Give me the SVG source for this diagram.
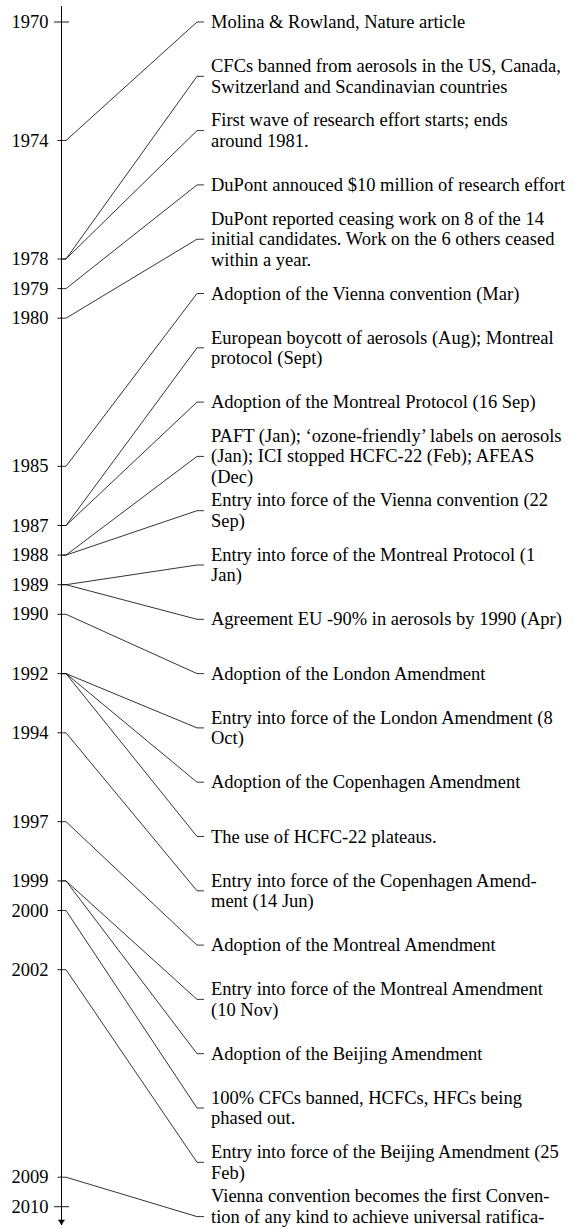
<svg xmlns="http://www.w3.org/2000/svg" width="574" height="1228" viewBox="0 0 574 1228">
<style>
.ax{stroke:#000;stroke-width:1;fill:none}
.tk{stroke:#000;stroke-width:0.9;fill:none}
.cn{stroke:#000;stroke-width:0.8;fill:none;stroke-linejoin:round}
.yr{font-family:"Liberation Serif","Times New Roman",serif;font-size:18.5px;fill:#000;text-anchor:end}
.lb{font-family:"Liberation Serif","Times New Roman",serif;font-size:18.5px;fill:#000}
</style>
<defs>
<marker id="arr" markerUnits="userSpaceOnUse" markerWidth="10" markerHeight="10" viewBox="-6 -5 7 10" refX="0" refY="0" orient="auto">
<path d="M-5,-3 Q-2,-0.8 0,0 Q-2,0.8 -5,3 Z" fill="#000" stroke="#000" stroke-width="0.6"/>
</marker>
</defs>
<rect width="574" height="1228" fill="#fff"/>
<g id="axis">
<line class="ax" x1="61.5" y1="6" x2="61.5" y2="1225" marker-end="url(#arr)"/>
<line class="tk" x1="54" y1="22" x2="69" y2="22"/>
<line class="tk" x1="54" y1="1206.7" x2="69" y2="1206.7"/>
<line class="tk" x1="57.5" y1="140.5" x2="61.5" y2="140.5"/>
<line class="tk" x1="57.5" y1="259" x2="61.5" y2="259"/>
<line class="tk" x1="57.5" y1="288.6" x2="61.5" y2="288.6"/>
<line class="tk" x1="57.5" y1="318.2" x2="61.5" y2="318.2"/>
<line class="tk" x1="57.5" y1="466.3" x2="61.5" y2="466.3"/>
<line class="tk" x1="57.5" y1="525.5" x2="61.5" y2="525.5"/>
<line class="tk" x1="57.5" y1="555.1" x2="61.5" y2="555.1"/>
<line class="tk" x1="57.5" y1="584.7" x2="61.5" y2="584.7"/>
<line class="tk" x1="57.5" y1="614.3" x2="61.5" y2="614.3"/>
<line class="tk" x1="57.5" y1="673.6" x2="61.5" y2="673.6"/>
<line class="tk" x1="57.5" y1="732.8" x2="61.5" y2="732.8"/>
<line class="tk" x1="57.5" y1="821.7" x2="61.5" y2="821.7"/>
<line class="tk" x1="57.5" y1="880.9" x2="61.5" y2="880.9"/>
<line class="tk" x1="57.5" y1="910.5" x2="61.5" y2="910.5"/>
<line class="tk" x1="57.5" y1="969.7" x2="61.5" y2="969.7"/>
<line class="tk" x1="57.5" y1="1177.2" x2="61.5" y2="1177.2"/>
</g>
<g id="years">
<text class="yr" x="48.5" y="28">1970</text>
<text class="yr" x="48.5" y="146.5">1974</text>
<text class="yr" x="48.5" y="265">1978</text>
<text class="yr" x="48.5" y="294.6">1979</text>
<text class="yr" x="48.5" y="324.2">1980</text>
<text class="yr" x="48.5" y="472.3">1985</text>
<text class="yr" x="48.5" y="531.5">1987</text>
<text class="yr" x="48.5" y="561.1">1988</text>
<text class="yr" x="48.5" y="590.7">1989</text>
<text class="yr" x="48.5" y="620.3">1990</text>
<text class="yr" x="48.5" y="679.6">1992</text>
<text class="yr" x="48.5" y="738.8">1994</text>
<text class="yr" x="48.5" y="827.7">1997</text>
<text class="yr" x="48.5" y="886.9">1999</text>
<text class="yr" x="48.5" y="916.5">2000</text>
<text class="yr" x="48.5" y="975.7">2002</text>
<text class="yr" x="48.5" y="1183.2">2009</text>
<text class="yr" x="48.5" y="1212.7">2010</text>
</g>
<g id="connectors">
<path class="cn" d="M61.5,140.5 H66 L197,22 H204"/>
<path class="cn" d="M61.5,259 H66 L197,76.3 H204"/>
<path class="cn" d="M61.5,259 H66 L197,130.6 H204"/>
<path class="cn" d="M61.5,288.6 H66 L197,184.9 H204"/>
<path class="cn" d="M61.5,318.2 H66 L197,239.2 H204"/>
<path class="cn" d="M61.5,466.3 H66 L197,293.5 H204"/>
<path class="cn" d="M61.5,525.5 H66 L197,347.8 H204"/>
<path class="cn" d="M61.5,525.5 H66 L197,402.1 H204"/>
<path class="cn" d="M61.5,555.1 H66 L197,456.4 H204"/>
<path class="cn" d="M61.5,555.1 H66 L197,510.7 H204"/>
<path class="cn" d="M61.5,584.7 H66 L197,565 H204"/>
<path class="cn" d="M61.5,584.7 H66 L197,619.3 H204"/>
<path class="cn" d="M61.5,614.3 H66 L197,673.6 H204"/>
<path class="cn" d="M61.5,673.6 H66 L197,727.9 H204"/>
<path class="cn" d="M61.5,673.6 H66 L197,782.2 H204"/>
<path class="cn" d="M61.5,673.6 H66 L197,836.5 H204"/>
<path class="cn" d="M61.5,732.8 H66 L197,890.8 H204"/>
<path class="cn" d="M61.5,821.7 H66 L197,945.1 H204"/>
<path class="cn" d="M61.5,880.9 H66 L197,999.4 H204"/>
<path class="cn" d="M61.5,880.9 H66 L197,1053.7 H204"/>
<path class="cn" d="M61.5,910.5 H66 L197,1108 H204"/>
<path class="cn" d="M61.5,969.7 H66 L197,1162.3 H204"/>
<path class="cn" d="M61.5,1177.2 H66 L197,1216.6 H204"/>
</g>
<g id="ev0"><text class="lb" x="211" y="28">Molina &amp; Rowland, Nature article</text></g>
<g id="ev1"><text class="lb" x="211" y="72">CFCs banned from aerosols in the US, Canada,</text><text class="lb" x="211" y="92.6">Switzerland and Scandinavian countries</text></g>
<g id="ev2"><text class="lb" x="211" y="126.3">First wave of research effort starts; ends</text><text class="lb" x="211" y="146.9">around 1981.</text></g>
<g id="ev3"><text class="lb" x="211" y="190.9">DuPont annouced $10 million of research effort</text></g>
<g id="ev4"><text class="lb" x="211" y="224.6">DuPont reported ceasing work on 8 of the 14</text><text class="lb" x="211" y="245.2">initial candidates. Work on the 6 others ceased</text><text class="lb" x="211" y="265.8">within a year.</text></g>
<g id="ev5"><text class="lb" x="211" y="299.5">Adoption of the Vienna convention (Mar)</text></g>
<g id="ev6"><text class="lb" x="211" y="343.5">European boycott of aerosols (Aug); Montreal</text><text class="lb" x="211" y="364.1">protocol (Sept)</text></g>
<g id="ev7"><text class="lb" x="211" y="408.1">Adoption of the Montreal Protocol (16 Sep)</text></g>
<g id="ev8"><text class="lb" x="211" y="441.8">PAFT (Jan); ‘ozone-friendly’ labels on aerosols</text><text class="lb" x="211" y="462.4">(Jan); ICI stopped HCFC-22 (Feb); AFEAS</text><text class="lb" x="211" y="483">(Dec)</text></g>
<g id="ev9"><text class="lb" x="211" y="506.4">Entry into force of the Vienna convention (22</text><text class="lb" x="211" y="527">Sep)</text></g>
<g id="ev10"><text class="lb" x="211" y="560.7">Entry into force of the Montreal Protocol (1</text><text class="lb" x="211" y="581.3">Jan)</text></g>
<g id="ev11"><text class="lb" x="211" y="625.3">Agreement EU -90% in aerosols by 1990 (Apr)</text></g>
<g id="ev12"><text class="lb" x="211" y="679.6">Adoption of the London Amendment</text></g>
<g id="ev13"><text class="lb" x="211" y="723.6">Entry into force of the London Amendment (8</text><text class="lb" x="211" y="744.2">Oct)</text></g>
<g id="ev14"><text class="lb" x="211" y="788.2">Adoption of the Copenhagen Amendment</text></g>
<g id="ev15"><text class="lb" x="211" y="842.5">The use of HCFC-22 plateaus.</text></g>
<g id="ev16"><text class="lb" x="211" y="886.5">Entry into force of the Copenhagen Amend-</text><text class="lb" x="211" y="907.1">ment (14 Jun)</text></g>
<g id="ev17"><text class="lb" x="211" y="951.1">Adoption of the Montreal Amendment</text></g>
<g id="ev18"><text class="lb" x="211" y="995.1">Entry into force of the Montreal Amendment</text><text class="lb" x="211" y="1015.7">(10 Nov)</text></g>
<g id="ev19"><text class="lb" x="211" y="1059.7">Adoption of the Beijing Amendment</text></g>
<g id="ev20"><text class="lb" x="211" y="1103.7">100% CFCs banned, HCFCs, HFCs being</text><text class="lb" x="211" y="1124.3">phased out.</text></g>
<g id="ev21"><text class="lb" x="211" y="1158">Entry into force of the Beijing Amendment (25</text><text class="lb" x="211" y="1178.6">Feb)</text></g>
<g id="ev22"><text class="lb" x="211" y="1202">Vienna convention becomes the first Conven-</text><text class="lb" x="211" y="1222.6">tion of any kind to achieve universal ratifica-</text></g>
</svg>
